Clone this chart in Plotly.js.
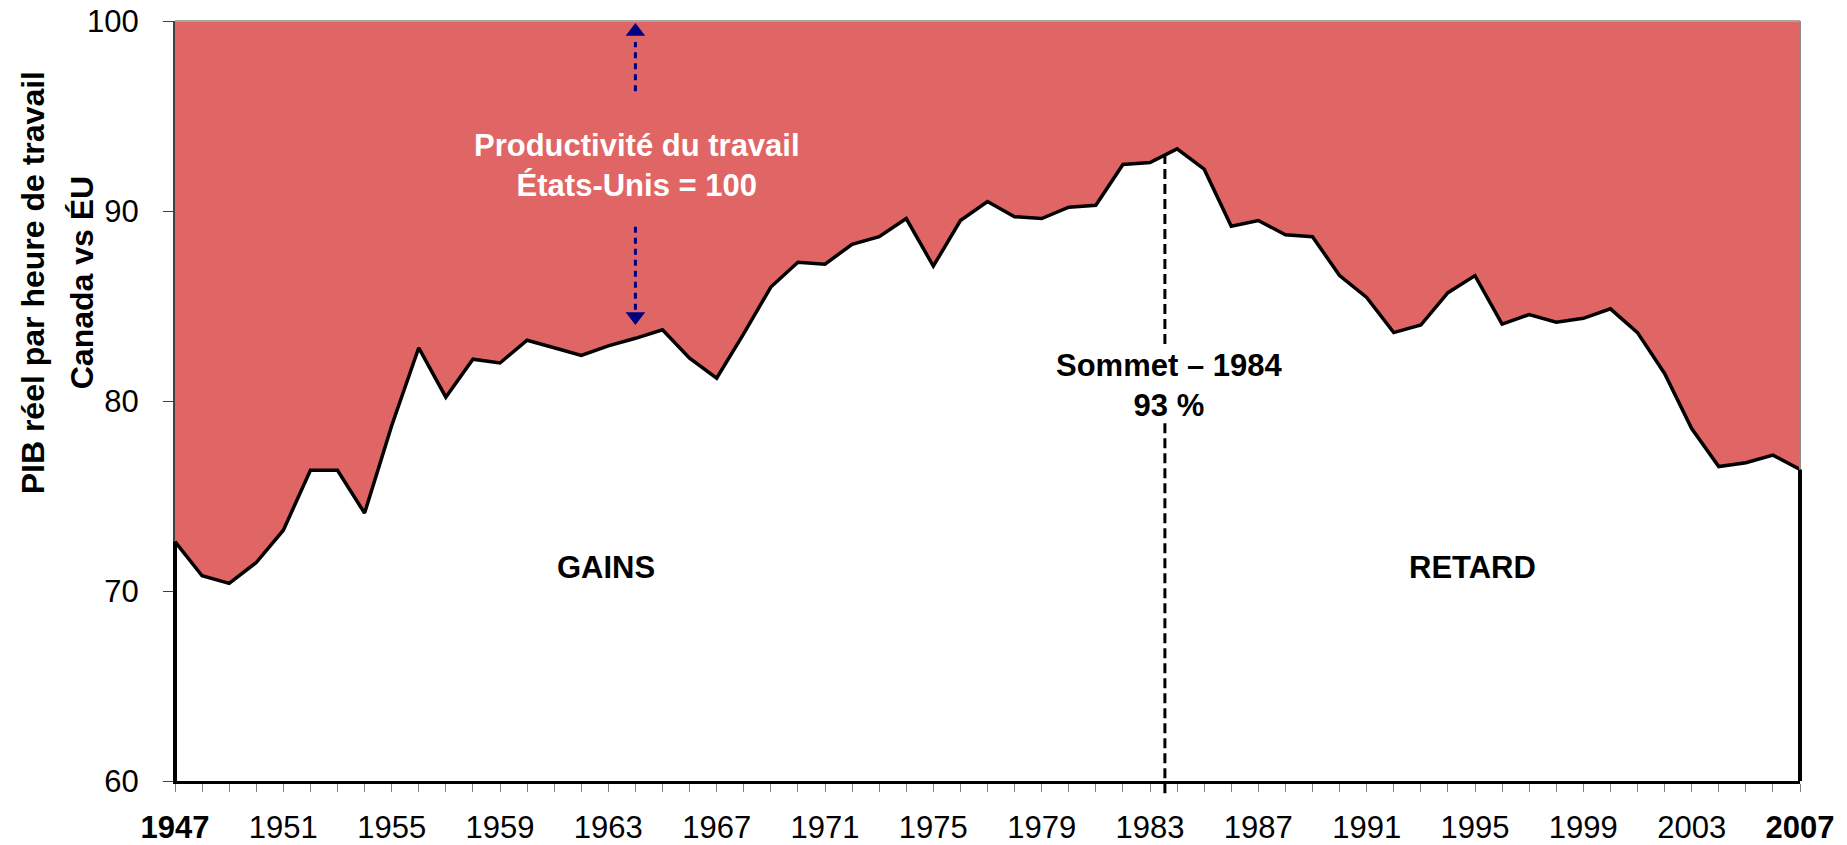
<!DOCTYPE html>
<html>
<head>
<meta charset="utf-8">
<script src="https://cdn.plot.ly/plotly-3.0.1.min.js"></script>
<style>
  html, body { margin: 0; padding: 0; background: #ffffff; }
  #chart { width: 1847px; height: 845px; }
</style>
</head>
<body>
<div id="chart"></div>
<script>
// ---- data ----
const years = [
  1947, 1948, 1949, 1950, 1951, 1952, 1953, 1954, 1955, 1956,
  1957, 1958, 1959, 1960, 1961, 1962, 1963, 1964, 1965, 1966,
  1967, 1968, 1969, 1970, 1971, 1972, 1973, 1974, 1975, 1976,
  1977, 1978, 1979, 1980, 1981, 1982, 1983, 1984, 1985, 1986,
  1987, 1988, 1989, 1990, 1991, 1992, 1993, 1994, 1995, 1996,
  1997, 1998, 1999, 2000, 2001, 2002, 2003, 2004, 2005, 2006,
  2007
];
// Canada real GDP per hour worked, US = 100
const canadaVsUS = [
  72.6, 70.8, 70.4, 71.5, 73.2, 76.35, 76.35, 74.1, 78.7, 82.8,
  80.2, 82.2, 82.0, 83.2, 82.8, 82.4, 82.9, 83.3, 83.75, 82.25,
  81.2, 83.55, 86.0, 87.3, 87.2, 88.25, 88.65, 89.6, 87.1, 89.5,
  90.5, 89.7, 89.6, 90.2, 90.3, 92.45, 92.55, 93.27, 92.2, 89.2,
  89.5, 88.75, 88.65, 86.6, 85.45, 83.6, 84.0, 85.7, 86.6, 84.05,
  84.55, 84.15, 84.35, 84.85, 83.6, 81.45, 78.55, 76.55, 76.75, 77.15,
  76.4
];
const xTickVals = [1947, 1951, 1955, 1959, 1963, 1967, 1971, 1975, 1979, 1983, 1987, 1991, 1995, 1999, 2003, 2007];
const xTickLabels = ['<b>1947</b>', '1951', '1955', '1959', '1963', '1967', '1971', '1975', '1979', '1983', '1987', '1991', '1995', '1999', '2003', '<b>2007</b>'];
const yTickVals = [60, 70, 80, 90, 100];
const yTickLabels = ['60', '70', '80', '90', '100'];
const yAxisTitleLines = ['PIB réel par heure de travail', 'Canada vs ÉU'];
const gapLabel = 'Productivité du travail<br>États-Unis = 100';
const peakLabel = 'Sommet – 1984<br>93 %';
const gainsLabel = 'GAINS';
const lagLabel = 'RETARD';

// ---- styling ----
const FONT = 'Liberation Sans, Arial, sans-serif';
const RED = '#E06666';
const NAVY = '#000080';
const yMin = 60, yMax = 100;
const peakLineX = 1983.55;
const arrowX = 1964;
const FS = 31;

const tickText = years.map(y => {
  const i = xTickVals.indexOf(y);
  return i >= 0 ? xTickLabels[i] : '';
});

const traces = [
  {
    type: 'scatter', mode: 'lines',
    x: years, y: canadaVsUS,
    fill: 'tozeroy', fillcolor: '#ffffff',
    line: { color: '#000000', width: 3.5 },
    hoverinfo: 'skip', showlegend: false
  },
  {
    type: 'scatter', mode: 'markers',
    x: [arrowX, arrowX], y: [99.45, 84.45],
    marker: { symbol: ['triangle-up', 'triangle-down'], size: 17, color: NAVY },
    cliponaxis: false, hoverinfo: 'skip', showlegend: false
  }
];

const layout = {
  width: 1847, height: 845,
  margin: { l: 175, r: 47, t: 21, b: 64, pad: 0 },
  paper_bgcolor: '#ffffff',
  plot_bgcolor: RED,
  showlegend: false,
  font: { family: FONT, color: '#000000', size: FS },
  xaxis: {
    range: [years[0], years[years.length - 1]],
    tickmode: 'array', tickvals: years, ticktext: tickText,
    ticks: 'outside', ticklen: 8, tickwidth: 1, tickcolor: '#808080',
    tickfont: { family: FONT, size: FS, color: '#000000' },
    ticklabelstandoff: 9,
    showline: true, linecolor: '#000000', linewidth: 3,
    showgrid: false, zeroline: false, fixedrange: true
  },
  yaxis: {
    range: [yMin, yMax],
    tickmode: 'array', tickvals: yTickVals, ticktext: yTickLabels,
    ticks: 'outside', ticklen: 10, tickwidth: 1, tickcolor: '#404040',
    tickfont: { family: FONT, size: FS, color: '#000000' },
    ticklabelstandoff: 18,
    showline: true, linecolor: '#404040', linewidth: 2,
    showgrid: false, zeroline: false, fixedrange: true
  },
  shapes: [
    { type: 'line', xref: 'paper', yref: 'paper', x0: 0, x1: 1, y0: 1, y1: 1,
      line: { color: '#a6a6a6', width: 2 } },
    { type: 'line', xref: 'paper', yref: 'paper', x0: 1, x1: 1, y0: 0, y1: 1,
      line: { color: '#8c8c8c', width: 2 } },
    { type: 'line', xref: 'paper', yref: 'y', x0: 0, x1: 0, y0: yMin, y1: canadaVsUS[0],
      line: { color: '#000000', width: 4 } },
    { type: 'line', xref: 'paper', yref: 'y', x0: 1, x1: 1, y0: yMin, y1: canadaVsUS[canadaVsUS.length - 1],
      line: { color: '#000000', width: 4 } },
    { type: 'line', xref: 'x', yref: 'y', x0: peakLineX, x1: peakLineX, y0: 83.0, y1: 92.9,
      line: { color: '#000000', width: 3, dash: '10px,5px' } },
    { type: 'line', xref: 'x', yref: 'paper', x0: peakLineX, x1: peakLineX, y0: -0.016, y1: 0.471,
      line: { color: '#000000', width: 3, dash: '10px,5px' } },
    { type: 'line', xref: 'x', yref: 'y', x0: arrowX, x1: arrowX, y0: 96.3, y1: 98.9,
      line: { color: NAVY, width: 3, dash: '6px,5px' } },
    { type: 'line', xref: 'x', yref: 'y', x0: arrowX, x1: arrowX, y0: 84.8, y1: 89.26,
      line: { color: NAVY, width: 3, dash: '6px,5px' } }
  ],
  annotations: [
    { xref: 'paper', yref: 'paper', x: -0.0873, y: 0.655, text: '<b>' + yAxisTitleLines[0] + '</b>',
      textangle: -90, showarrow: false, xanchor: 'center', yanchor: 'middle',
      font: { family: FONT, size: 32, color: '#000000' } },
    { xref: 'paper', yref: 'paper', x: -0.0572, y: 0.655, text: '<b>' + yAxisTitleLines[1] + '</b>',
      textangle: -90, showarrow: false, xanchor: 'center', yanchor: 'middle',
      font: { family: FONT, size: 32, color: '#000000' } },
    { xref: 'x', yref: 'y', x: 1964.05, y: 92.37, text: '<b>' + gapLabel + '</b>',
      showarrow: false, xanchor: 'center', yanchor: 'middle', align: 'center',
      font: { family: FONT, size: FS, color: '#ffffff' } },
    { xref: 'x', yref: 'y', x: 1983.7, y: 80.8, text: '<b>' + peakLabel + '</b>',
      showarrow: false, xanchor: 'center', yanchor: 'middle', align: 'center',
      font: { family: FONT, size: FS, color: '#000000' } },
    { xref: 'x', yref: 'y', x: 1962.9, y: 71.26, text: '<b>' + gainsLabel + '</b>',
      showarrow: false, xanchor: 'center', yanchor: 'middle',
      font: { family: FONT, size: FS, color: '#000000' } },
    { xref: 'x', yref: 'y', x: 1994.9, y: 71.26, text: '<b>' + lagLabel + '</b>',
      showarrow: false, xanchor: 'center', yanchor: 'middle',
      font: { family: FONT, size: FS, color: '#000000' } }
  ]
};

Plotly.newPlot('chart', traces, layout, { staticPlot: true, displayModeBar: false });
</script>
</body>
</html>
